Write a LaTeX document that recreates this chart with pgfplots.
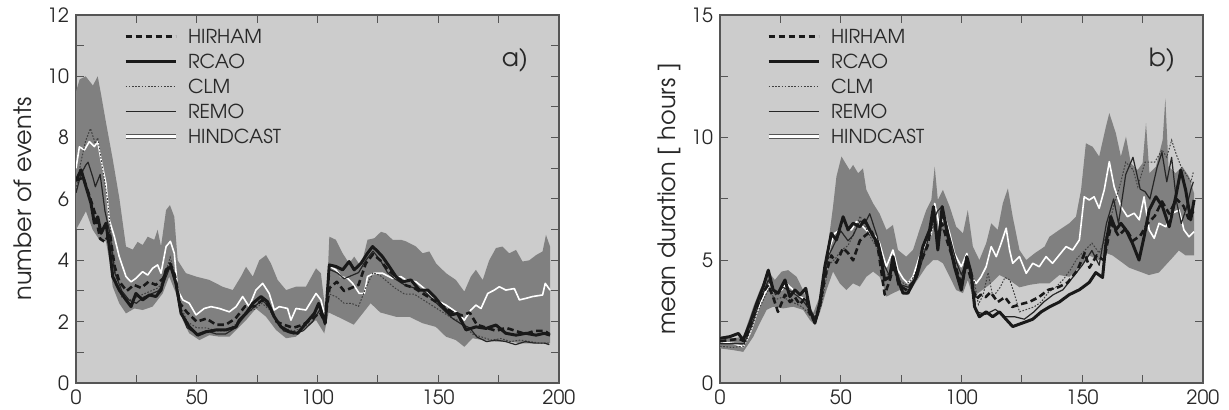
\documentclass[border=0pt]{standalone}
\usepackage{fontspec}
\setmainfont{TeX Gyre Adventor}
\usepackage{pgfplots}
\usepgfplotslibrary{fillbetween}
\pgfplotsset{compat=1.18}
\definecolor{bg}{RGB}{204,204,204}
\definecolor{band}{RGB}{128,128,128}
\definecolor{frame}{RGB}{85,85,85}
\definecolor{ink}{RGB}{40,40,40}

\pgfplotsset{
  panel/.style={
    scale only axis, width=241.5pt, height=184pt,
    xmin=0, xmax=200, xtick={0,50,...,200}, minor xtick={25,75,...,175},
    axis background/.style={fill=bg},
    axis line style={frame, line width=0.6pt},
    tick style={frame, line width=0.5pt},
    major tick length=4pt, minor tick length=4pt,
    tick align=inside,
    /pgf/number format/assume math mode=true,
    tick label style={font=\fontsize{9.8}{10}\selectfont, text=ink},
    label style={font=\fontsize{12}{13}\selectfont, text=ink},
    legend style={draw=none, fill=none, font=\fontsize{9.6}{10}\selectfont,
      text=ink, anchor=north west, row sep=5.4pt, column sep=5pt, inner sep=0pt,
      nodes={inner sep=0pt, text height=7.1pt, text depth=0pt}},
    legend cell align=left,
    legend image code/.code={\draw[##1] (0pt,0pt) -- (25pt,0pt);},
  },
  hirham/.style={black!90, line width=1.3pt, dash pattern=on 3.2pt off 1.8pt, line join=round},
  rcao/.style={black!90, line width=1.5pt, line join=round},
  clm/.style={black!75, line width=0.5pt, dash pattern=on 0.8pt off 0.8pt},
  remo/.style={black!85, line width=0.6pt, line join=round},
  hind/.style={white, line width=0.8pt, line join=round},
}

\begin{document}
\begin{tikzpicture}
% ---------------- a) number of events
\begin{axis}[panel, at={(0,0)}, anchor=south west,
  ymin=0, ymax=12, ytick={0,2,...,12}, minor ytick={1,3,...,11},
  ylabel={number of events},
  ylabel style={at={(axis description cs:-0.11,0.5)}, anchor=center},
  legend style={at={(0.097,0.962)}}]
\addlegendimage{hirham}\addlegendentry{HIRHAM}
\addlegendimage{rcao}\addlegendentry{RCAO}
\addlegendimage{clm}\addlegendentry{CLM}
\addlegendimage{remo}\addlegendentry{REMO}
\addlegendimage{draw=frame, double=white, double distance=1.6pt, line width=0.4pt}\addlegendentry{HINDCAST}

\addplot[name path=aup, draw=none, forget plot] coordinates {
(0,9.5)(1.5,9.9)(4,10.0)(7,9.7)(9,10.0)(10.4,9.4)(12.4,8.5)(15.2,7.3)(18,6.0)(20.7,4.45)(23.5,4.35)(25.5,4.6)(27.6,4.5)(29.7,4.77)(32.4,4.67)(33.8,5.0)(35.2,4.45)(37.3,5.64)(38.9,5.8)(40.7,5.42)(42.1,4.0)(45.5,3.58)(49.7,3.47)(55.2,3.36)(60.7,3.14)(64.9,3.03)(68.3,3.47)(70.4,3.79)(73.2,3.47)(75.9,4.0)(78.7,4.17)(80.7,3.9)(83.5,3.36)(87,3.03)(91.1,3.14)(95.2,3.14)(99.4,3.74)(101.4,3.58)(103.5,2.2)(104.9,4.77)(107.6,4.67)(110.4,4.23)(113.1,3.9)(115.2,4.12)(118,3.79)(120.7,4.67)(123.5,4.72)(126.3,4.93)(128.3,4.88)(131.1,4.67)(134.5,4.67)(136.6,4.62)(140.8,4.45)(143.5,4.23)(146.3,4.29)(149.1,3.9)(153.2,3.58)(157.3,3.36)(160.8,2.98)(163.5,3.47)(165.6,3.69)(168.4,3.36)(171.1,4.0)(173.9,4.4)(176.6,4.45)(179.4,4.23)(182.2,4.34)(184.9,3.96)(187.7,4.0)(190.5,4.17)(193.2,4.29)(194.6,4.83)(196.3,4.45)};
\addplot[name path=alo, draw=none, forget plot] coordinates {
(0,5.0)(1.4,5.2)(4.1,5.6)(6.9,5.0)(9.7,4.67)(12.4,4.62)(13.8,4.0)(15.2,3.14)(17.9,2.6)(20.7,2.27)(24.2,2.43)(27.6,2.38)(31.7,2.49)(35.9,2.92)(38.6,3.47)(41.4,2.92)(44.2,2.05)(46.9,1.62)(51.1,1.4)(55.2,1.56)(59.4,1.51)(63.5,1.51)(67.6,1.83)(70.4,2.05)(74.5,2.43)(78.7,2.16)(82.8,1.73)(87,1.46)(91.1,1.51)(95.2,1.83)(99.4,2.05)(102.8,1.62)(104.6,2.3)(110,2.1)(115,1.9)(118,2.2)(122,2.6)(126,2.3)(132.5,2.16)(138,2.16)(143.5,1.95)(149,1.83)(153.2,1.51)(157.3,1.4)(160.8,1.18)(164.2,1.46)(168.4,1.4)(173.9,1.35)(179.4,1.35)(184.9,1.29)(190.5,1.29)(196.3,1.29)};
\addplot[band, forget plot] fill between[of=aup and alo];

\addplot[hind, forget plot] coordinates {
(0,7.0)(1.4,7.7)(3.5,7.6)(5.5,7.87)(7.6,7.71)(9,7.87)(10.4,7.27)(12.4,6.5)(13.8,5.31)(15.9,4.77)(17.9,4.12)(20.7,3.47)(22.8,3.3)(24.8,3.41)(27.6,3.63)(29.7,3.52)(31.7,3.74)(33.8,3.85)(35.2,3.58)(37.3,4.45)(39.1,4.62)(40.7,4.23)(42.1,3.03)(44.2,2.71)(46.9,2.6)(49.7,2.22)(53.1,2.43)(55.9,2.49)(59.4,2.43)(63.5,2.32)(66.3,2.49)(69,2.82)(71.7,2.49)(74.5,3.03)(77.3,3.25)(80,2.92)(82.1,2.38)(84.2,2.49)(87.6,2.43)(89,2.05)(91.1,2.43)(95.2,2.38)(99.4,2.92)(101.4,2.71)(103.2,2.16)(105.2,3.8)(107.6,3.69)(109.7,3.47)(112.5,3.41)(114.5,3.25)(117.3,2.92)(119.4,2.92)(120.7,3.47)(123.5,3.58)(126.9,3.58)(131.1,3.41)(134.5,3.47)(136.6,3.36)(140.8,3.3)(145,3.03)(149.1,2.71)(153.2,2.54)(157.3,2.32)(160.8,2.05)(163.5,2.38)(165.6,2.54)(167.7,2.43)(170.5,2.92)(173.2,3.03)(175.3,3.14)(178,3.03)(181.5,3.08)(183.6,2.71)(186.3,2.76)(189.1,2.82)(193.2,2.87)(194.3,3.25)(196.3,3.03)};
\addplot[clm, forget plot] coordinates {
(0,6.3)(2,7.2)(4,7.9)(6,8.3)(8,7.8)(9,8.0)(11,7.0)(13,6.0)(15,4.4)(17,3.2)(19,2.8)(22,2.7)(25,2.8)(28,2.9)(31,3.0)(34,3.1)(36,3.3)(39,4.1)(41,3.5)(43,2.6)(46,2.0)(50,1.8)(54,1.8)(58,1.7)(62,1.7)(66,1.9)(70,2.3)(74,2.4)(77,2.6)(80,2.4)(83,2.0)(86,1.8)(90,1.7)(94,1.8)(98,2.0)(101,2.4)(103,2.0)(105,2.9)(108,2.8)(111,2.6)(114,2.6)(117,2.5)(120,3.1)(123,3.6)(126,3.5)(129,3.3)(132,3.1)(136,2.9)(140,2.9)(144,2.7)(148,2.5)(152,2.3)(156,2.1)(160,2.0)(164,1.6)(168,1.5)(172,1.4)(176,1.45)(180,1.35)(184,1.4)(188,1.35)(192,1.3)(196,1.3)};
\addplot[remo, forget plot] coordinates {
(0,6.2)(2,6.8)(4,7.1)(5,7.2)(7,6.7)(8,6.4)(10,6.8)(12,5.6)(14,4.9)(16,3.6)(19,3.0)(22,2.7)(25,2.6)(28,2.8)(31,2.9)(34,3.0)(36,3.2)(39,3.8)(41,3.3)(43,2.4)(46,1.8)(50,1.6)(54,1.7)(58,1.6)(62,1.6)(66,1.8)(70,2.2)(74,2.5)(77,2.7)(80,2.5)(83,2.0)(86,1.7)(90,1.6)(94,1.7)(98,2.0)(101,2.4)(103,1.9)(105,3.7)(108,3.6)(111,3.4)(114,3.5)(117,3.6)(120,4.0)(123,4.3)(126,4.0)(129,3.6)(132,3.4)(136,3.2)(140,3.1)(144,3.0)(148,2.7)(152,2.4)(156,2.1)(160,1.9)(163,1.8)(166,1.5)(170,1.35)(174,1.4)(178,1.35)(182,1.25)(186,1.35)(190,1.3)(194,1.3)(196,1.25)};
\addplot[hirham, forget plot] coordinates {
(0,6.6)(3,6.7)(6,6.0)(8,5.5)(10,4.7)(12,4.6)(14,4.9)(16,3.8)(18,3.3)(21,3.0)(24,3.2)(27,3.1)(30,3.3)(33,3.2)(36,3.4)(39,3.9)(41,3.5)(43,2.6)(46,2.3)(50,2.0)(54,2.1)(58,1.9)(62,1.9)(66,2.1)(70,2.5)(74,2.5)(77,2.7)(80,2.5)(83,2.0)(86,1.9)(90,1.8)(94,1.9)(98,2.1)(101,2.3)(103,2.0)(105,3.1)(108,3.3)(111,3.0)(114,3.1)(117,3.2)(120,3.9)(123,4.2)(126,4.0)(129,3.7)(132,3.5)(136,3.2)(140,3.1)(144,2.9)(148,2.7)(152,2.5)(156,2.3)(160,2.2)(163,2.3)(166,1.9)(170,1.8)(174,1.7)(178,1.8)(182,1.7)(186,1.6)(190,1.7)(194,1.7)(196,1.6)};
\addplot[rcao, forget plot] coordinates {
(0,6.6)(2.1,6.95)(4.1,6.41)(6.2,5.86)(7.6,5.21)(9,5.42)(10.4,4.88)(12.4,5.21)(13.8,4.45)(15.2,3.47)(17.9,3.03)(20.7,2.71)(22.8,2.49)(24.8,2.92)(27.6,2.71)(30.4,2.87)(33.1,2.82)(35.2,3.03)(37.3,3.69)(39.3,3.8)(41.4,3.25)(43.5,2.27)(46.9,1.83)(50.4,1.56)(53.8,1.67)(58,1.73)(62.1,1.73)(66.3,1.83)(67.6,2.05)(70.4,2.27)(73.2,2.6)(76.6,2.82)(79.3,2.65)(82.1,2.16)(84.9,1.83)(88.3,1.67)(91.8,1.62)(95.2,1.95)(98.7,2.27)(100.5,2.6)(103.2,1.95)(104.9,3.85)(107.6,3.8)(110.4,3.69)(113.1,3.96)(115.2,3.69)(118,3.9)(120.7,4.23)(122.8,4.45)(124.9,4.29)(126.9,4.12)(129.7,3.8)(132.5,3.47)(135.3,3.3)(138.7,3.36)(142.2,3.03)(145.7,3.03)(148.4,2.82)(151.8,2.49)(155.3,2.22)(158,2.27)(161.5,1.73)(165.6,1.83)(169.8,1.78)(173.9,1.89)(178,1.62)(182.2,1.56)(186.3,1.62)(190.5,1.56)(193.9,1.62)(196.3,1.56)};
\node[font=\fontsize{12.5}{13}\selectfont, text=ink] at (rel axis cs:0.909,0.878) {a)};
\end{axis}

% ---------------- b) mean duration
\begin{axis}[panel, at={(322pt,0)}, anchor=south west,
  ymin=0, ymax=15, ytick={0,5,10,15}, minor ytick={2.5,7.5,12.5},
  ylabel={mean duration [ hours ]},
  ylabel style={at={(axis description cs:-0.104,0.5)}, anchor=center},
  legend style={at={(0.095,0.962)}}]
\addlegendimage{hirham}\addlegendentry{HIRHAM}
\addlegendimage{rcao}\addlegendentry{RCAO}
\addlegendimage{clm}\addlegendentry{CLM}
\addlegendimage{remo}\addlegendentry{REMO}
\addlegendimage{draw=frame, double=white, double distance=1.6pt, line width=0.4pt}\addlegendentry{HINDCAST}

\addplot[name path=bup, draw=none, forget plot] coordinates {
(0,1.9)(5.5,1.82)(9.6,1.89)(13.8,3.11)(16.5,3.79)(20,4.54)(22.7,4.2)(25.5,4.54)(28.2,4.6)(31.7,4.33)(34.4,3.79)(36.5,3.25)(38.6,2.85)(41.3,3.52)(44.1,5.15)(46.8,7.19)(48.2,8.41)(50.3,9.23)(51.7,9.0)(53.7,8.68)(55.1,8.89)(57.2,8.55)(59.2,8.75)(60.6,7.87)(63.4,7.32)(66.1,6.9)(68.9,6.24)(71.6,6.44)(73.7,5.42)(77.1,5.15)(79.9,5.42)(82.6,6.24)(85.4,7.05)(87.5,7.46)(88.9,8.82)(90.2,7.46)(92.3,7.87)(95.1,7.19)(97.8,6.37)(100.6,6.1)(102.6,7.05)(104.7,5.56)(107.4,5.01)(110.2,5.69)(112.3,6.51)(115,6.24)(117.1,7.32)(119.2,7.93)(121.2,6.78)(124,5.42)(126.8,5.01)(130.2,5.28)(134.4,5.56)(136.4,5.96)(140.5,6.24)(144.6,6.51)(147.4,6.78)(149.5,7.87)(151.5,9.77)(154.3,9.63)(157,9.23)(159.8,10.45)(161.2,11.0)(163.9,10.18)(166,9.23)(168.1,10.04)(170.1,8.96)(172.9,8.68)(175,8.96)(176.4,10.59)(177.8,8.55)(180.5,8.82)(183.3,9.91)(184.4,11.6)(185.7,8.82)(188.7,8.55)(191.4,8.82)(194.2,8.41)(196.3,7.73)};
\addplot[name path=blo, draw=none, forget plot] coordinates {
(0,1.41)(5.5,1.34)(9.6,1.27)(13.8,1.89)(16.5,2.44)(19.3,2.98)(22,3.11)(26.2,3.04)(30.3,3.11)(34.4,2.98)(37.2,2.57)(39.3,2.37)(41.3,2.85)(44.1,3.79)(46.8,4.54)(49.6,4.06)(52.3,3.79)(55.1,4.06)(57.9,3.93)(60.6,4.33)(63.4,4.54)(66.1,4.33)(68.2,3.79)(68.9,3.52)(71.6,3.66)(74.4,3.79)(77.1,3.59)(79.9,3.93)(82.6,4.33)(85.4,4.74)(88.2,5.01)(90.2,5.01)(92.3,4.88)(95.1,4.33)(97.8,3.79)(100.6,3.66)(102.6,4.2)(104.7,3.52)(107.4,3.7)(111.5,4.0)(115.7,4.4)(119.8,4.2)(124,3.9)(128.1,4.0)(132.2,4.06)(136.4,4.06)(140.5,4.4)(144.6,4.33)(148.8,4.7)(152.9,5.2)(157,5.0)(159.8,5.3)(162.5,5.2)(166.7,4.9)(169.4,4.7)(172.1,4.6)(174.9,4.5)(177.6,4.4)(181.7,4.5)(184.5,4.8)(187.3,5.1)(190,5.4)(192.8,5.2)(196.3,5.2)};
\addplot[band, forget plot] fill between[of=bup and blo];

\addplot[hind, forget plot] coordinates {
(0,1.68)(5.5,1.61)(9.6,1.48)(12.4,2.02)(15.2,2.85)(17.9,3.52)(20.7,4.06)(22.7,3.66)(25.5,3.79)(27.5,4.06)(30.3,3.79)(33.1,3.52)(35.8,3.38)(38.6,2.71)(40.6,2.85)(42.7,3.79)(45.5,5.56)(47.5,6.1)(49.6,6.24)(51.2,6.8)(52.5,6.3)(54.4,6.24)(56.5,6.58)(59.2,6.37)(62,6.1)(64.7,5.96)(66.1,5.69)(67.5,5.2)(68.9,4.74)(71.6,5.42)(73.7,4.6)(75.8,4.26)(77.8,4.06)(79.9,4.33)(82.6,5.15)(85.4,5.69)(87.5,6.1)(88.9,7.32)(90.9,6.37)(93,6.78)(95.1,6.1)(97.1,5.28)(99.9,4.74)(102.2,5.28)(104,4.33)(106.1,4.06)(108.1,4.33)(110.2,4.74)(112.3,5.56)(114.4,5.15)(116.4,5.69)(118.5,6.31)(119.9,5.42)(121.2,4.88)(124,5.15)(126.8,4.47)(129.5,4.88)(132.2,4.74)(135,5.15)(137.7,4.88)(140.5,5.22)(143.3,5.56)(146,5.42)(148.8,5.83)(150.8,7.59)(152.9,7.46)(154.9,7.59)(157,7.12)(159.1,7.87)(161.2,9.02)(163.2,8.0)(166,7.19)(168.7,6.78)(171.5,6.92)(173.6,6.65)(175.6,7.59)(177.7,6.24)(179.8,5.9)(181.8,6.51)(184.6,6.37)(187.3,6.92)(190.1,7.05)(192.1,6.24)(194.2,5.96)(196.3,6.17)};
\addplot[clm, forget plot] coordinates {
(0,1.5)(5,1.45)(10,1.5)(13,2.2)(16,3.0)(20,3.8)(23,3.4)(26,3.5)(30,3.3)(34,3.1)(37,2.8)(40,2.6)(42,3.2)(45,4.8)(48,5.1)(50,5.4)(53,5.6)(55,6.0)(58,6.8)(60,6.4)(62,6.0)(65,5.5)(68,4.2)(70,4.5)(72,4.8)(74,4.2)(77,4.0)(80,4.3)(83,4.9)(85,5.5)(87,6.0)(89,6.6)(90,6.0)(92,6.3)(94,6.0)(96,5.5)(98,4.6)(100,4.1)(102,5.0)(105,4.3)(107,3.2)(109,3.6)(111,4.5)(113,3.5)(116,3.9)(118,4.3)(120,4.2)(122,3.6)(124,2.9)(127,3.0)(130,3.1)(133,3.3)(136,3.7)(139,3.9)(142,4.2)(145,4.6)(148,5.1)(151,5.4)(154,5.7)(157,5.3)(160,6.0)(163,7.2)(166,8.2)(168,9.0)(171,8.7)(173,8.0)(176,9.0)(180,9.0)(183,9.5)(185,9.2)(187,9.9)(189,9.3)(191,8.8)(193,8.5)(195,8.2)(196,8.6)};
\addplot[remo, forget plot] coordinates {
(0,1.6)(5,1.6)(10,1.6)(13,2.3)(16,3.2)(20,4.2)(23,3.6)(26,3.9)(30,3.7)(34,3.4)(37,3.0)(40,2.6)(42,3.4)(45,5.2)(48,5.8)(50,6.2)(53,5.8)(55,6.0)(58,6.6)(60,6.5)(62,6.9)(65,6.0)(68,4.8)(70,4.4)(72,4.9)(75,4.0)(78,3.9)(82,4.4)(86,5.8)(88,6.5)(90,7.0)(92,7.2)(95,6.0)(98,4.9)(100,4.4)(102,5.0)(104,4.6)(106,2.9)(110,2.8)(114,3.0)(118,2.7)(122,2.7)(126,2.6)(130,2.9)(134,3.3)(138,3.6)(142,3.8)(146,4.3)(150,4.8)(154,5.4)(157,4.8)(160,6.5)(163,7.5)(165,6.5)(168,8.5)(171,9.2)(174,7.9)(176,7.8)(178,7.5)(181,8.8)(183,9.4)(185,8.2)(187,9.2)(189,7.4)(191,6.5)(193,7.1)(195,7.9)(196,8.2)};
\addplot[hirham, forget plot] coordinates {
(0,1.7)(4,1.75)(8,1.8)(10,1.7)(12.4,2.3)(15.2,3.1)(17.9,3.7)(20,4.0)(22,3.5)(24,2.9)(26.9,3.6)(29,3.3)(31,3.5)(33,3.2)(35.5,3.5)(37.2,2.8)(39.3,2.5)(41.3,3.1)(43.4,4.3)(46.1,5.2)(48.2,4.9)(51,5.5)(53,5.3)(55.1,5.0)(57.9,5.8)(60,6.0)(62.7,6.2)(65.4,5.5)(68.2,3.6)(70.3,4.2)(72,4.8)(74,4.0)(77,3.8)(80,4.1)(83,4.9)(86,5.6)(88,6.7)(90,6.0)(92,6.5)(94,5.8)(97,4.9)(100,4.0)(102,4.9)(104,4.2)(106,3.4)(108,3.6)(110,3.5)(112,3.7)(115,3.3)(118,3.5)(121,3.1)(124,3.2)(128,3.3)(132,3.5)(136,3.8)(140,3.9)(144,4.1)(148,4.6)(151,5.3)(153,4.7)(156,5.2)(159,5.0)(162,6.5)(165,6.0)(168,6.3)(171,5.8)(174,6.0)(177,6.5)(180,6.8)(183,7.4)(186,6.9)(189,7.5)(192,7.2)(194,6.7)(196,7.0)};
\addplot[rcao, forget plot] coordinates {
(0,1.82)(4.1,1.89)(7.6,2.02)(9.6,1.75)(12.4,2.44)(15.2,3.25)(17.9,3.93)(20,4.6)(22,3.79)(24.1,3.66)(26.9,4.2)(28.9,3.52)(31,3.79)(33.1,3.59)(35.5,3.86)(37.2,2.98)(39.3,2.44)(41.3,3.25)(43.4,4.74)(46.1,6.1)(48.2,5.83)(51,6.78)(53,6.24)(55.1,6.51)(57.9,6.37)(59.9,6.65)(62.7,6.1)(65.4,5.69)(66.8,5.0)(68.2,4.2)(70.3,4.33)(71.6,5.15)(73.7,4.2)(75.8,3.66)(77.8,3.66)(81.3,4.33)(84,5.56)(86.8,6.24)(88.4,7.19)(90.2,5.42)(92,7.19)(94.4,5.96)(97.1,4.74)(99.9,3.79)(102.2,5.15)(104,4.47)(105.4,3.11)(107.4,2.7)(110.2,2.9)(112.9,2.7)(115.7,2.9)(118.4,2.6)(121.2,2.3)(124,2.4)(126.8,2.5)(129.5,2.6)(133,2.9)(136.4,3.1)(140.5,3.3)(144.6,3.6)(148.8,3.8)(152.9,4.1)(155.6,4.5)(158.4,4.3)(159.8,5.69)(161.8,6.78)(163.9,6.24)(166,6.51)(168.1,6.24)(170.8,5.69)(173.5,5.01)(175.6,5.96)(177.7,7.05)(180.5,7.59)(183.2,7.19)(186,6.37)(188.7,7.59)(190.8,8.68)(192.8,7.87)(194.9,6.65)(196.3,7.46)};
\node[font=\fontsize{12.5}{13}\selectfont, text=ink] at (rel axis cs:0.915,0.878) {b)};
\end{axis}
\pgfresetboundingbox
\path (-38pt,-13.5pt) rectangle (576.5pt,191.5pt);
\end{tikzpicture}
\end{document}
